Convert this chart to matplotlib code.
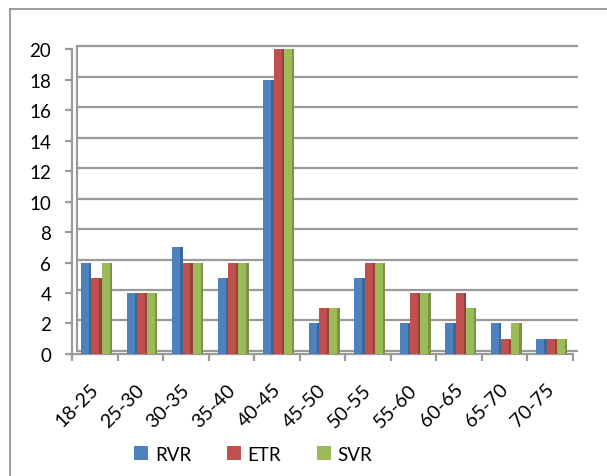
import numpy as np
import matplotlib.pyplot as plt
import matplotlib.transforms as mtransforms
from matplotlib.lines import Line2D

# dane z wykresu
kategorie = ['18-25', '25-30', '30-35', '35-40', '40-45', '45-50',
             '50-55', '55-60', '60-65', '65-70', '70-75']
rvr = [6, 4, 7, 5, 18, 2, 5, 2, 2, 2, 1]
etr = [5, 4, 6, 6, 20, 3, 6, 4, 4, 1, 1]
svr = [6, 4, 6, 6, 20, 3, 6, 4, 3, 2, 1]
serie = ['RVR', 'ETR', 'SVR']
kolory = ['#4F81BD', '#C0504D', '#9BBB59']
ciemne = ['#3C6798', '#9A3D3B', '#7A9444']

plt.rcParams['font.family'] = ['Lato', 'DejaVu Sans']

fig = plt.figure(figsize=(6.07, 4.77), dpi=100)
ax = fig.add_axes([0.1186, 0.2558, 0.825, 0.6392])

x = np.arange(len(kategorie))
w = 0.225
off = 0.04
# przesuniecie "tylnej sciany" (efekt 3D)
sciana = ax.transData + mtransforms.ScaledTranslation(5 / 100, 3 / 100, fig.dpi_scale_trans)

# siatka
for y in range(0, 21, 2):
    ax.plot([-0.5, 10.5], [y, y], color='#9a9a9a', lw=1.6, transform=sciana, zorder=1,
            solid_capstyle='butt', clip_on=False)
    xa, ya = ax.transData.transform((-0.5, y))
    xb, yb = sciana.transform((-0.5, y))
    fig.add_artist(Line2D([xa / fig.bbox.width, xb / fig.bbox.width],
                          [ya / fig.bbox.height, yb / fig.bbox.height],
                          color='#9a9a9a', lw=1.6))
ax.plot([-0.5, -0.5], [0, 20], color='#9a9a9a', lw=1.6, transform=sciana, zorder=1, clip_on=False)

ws = 0.05
for i, dane in enumerate([rvr, etr, svr]):
    pos = x + off + (i - 1) * w
    ax.bar(pos, dane, width=w, color=kolory[i], label=serie[i], zorder=3, linewidth=0)
    ax.bar(pos + w / 2 - ws / 2, dane, width=ws, color=ciemne[i], zorder=4, linewidth=0)

ax.set_xlim(-0.5, 10.5)
ax.set_ylim(0, 20)
ax.set_yticks(range(0, 21, 2))
ax.set_xticks(np.arange(-0.5, 11, 1), minor=False)
ax.set_xticklabels([])
ax.set_xticks(x, minor=True)
ax.set_xticklabels(kategorie, minor=True, rotation=45, ha='right', rotation_mode='anchor',
                   fontsize=14)
ax.tick_params(axis='x', which='minor', length=0, pad=19)
ax.tick_params(axis='x', which='major', length=5, color='#9a9a9a', width=1.6, direction='out')
ax.tick_params(axis='y', length=5, color='#9a9a9a', width=1.6, labelsize=13.5, pad=10)
for s in ['top', 'right']:
    ax.spines[s].set_visible(False)
ax.spines['left'].set_color('#9a9a9a')
ax.spines['left'].set_linewidth(1.6)
ax.spines['bottom'].set_color('#9a9a9a')
ax.spines['bottom'].set_linewidth(1.6)

# przesuniecie etykiet osi x
for lab in ax.get_xticklabels(minor=True):
    lab.set_transform(lab.get_transform() + mtransforms.ScaledTranslation(-5 / 100, 0, fig.dpi_scale_trans))

uchwyty, etykiety = ax.get_legend_handles_labels()
fig.legend(uchwyty[:3], etykiety[:3], loc='center', bbox_to_anchor=(0.417, 0.046), ncol=3,
           frameon=False, fontsize=13.5, handlelength=0.75, handleheight=0.75, columnspacing=1.9,
           handletextpad=0.35)

# ramka wykresu
fig.add_artist(Line2D([0.0165, 0.0165], [0, 0.979], color='#8c8c8c', lw=1.2))
fig.add_artist(Line2D([0.0165, 1], [0.979, 0.979], color='#8c8c8c', lw=1.2))

plt.savefig('out.png', dpi=100)
